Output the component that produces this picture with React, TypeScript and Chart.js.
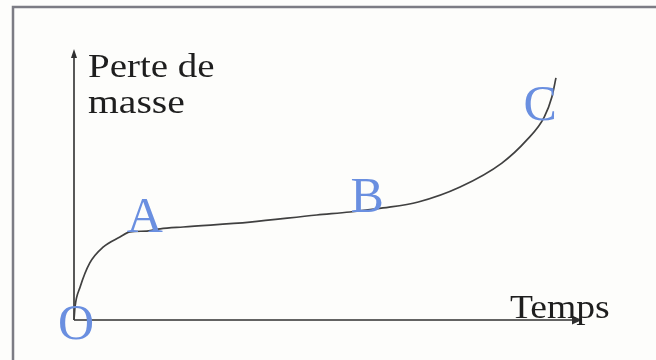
import { useEffect, useRef } from 'react';
import { Chart, registerables } from 'chart.js';

Chart.register(...registerables);

// Curve: mass loss versus time (arbitrary units)
const timeValues = [0, 0.2, 1.2, 3.1, 5.7, 9.0, 11.0, 14.3, 16.9, 21.4, 34.5, 47.6, 54.1, 60.6, 67.5, 75.7, 83.9, 88.8, 92.2, 93.7, 94.5];
const massLossValues = [0, 4.8, 12.1, 21.0, 26.8, 30.5, 32.4, 32.7, 33.5, 34.2, 36.0, 38.6, 39.7, 41.2, 43.4, 48.9, 57.7, 66.2, 74.6, 82.0, 89.0];

// Point labels (blue letters) anchored in data coordinates (baseline centre)
const pointLabels = ['O', 'A', 'B', 'C'];
const pointLabelX = [0.4, 13.9, 57.5, 91.4];
const pointLabelY = [-7, 32.4, 39.7, 73.5];

const yAxisTitle = ['Perte de', 'masse'];
const xAxisTitle = 'Temps';

const SERIF = '"Liberation Serif", "Times New Roman", serif';

const decor = {
  id: 'decor',
  beforeDraw(chart: any) {
    const { ctx, width, height } = chart;
    ctx.save();
    ctx.fillStyle = '#fdfdfb';
    ctx.fillRect(0, 0, width, height);
    ctx.strokeStyle = '#7c7c84';
    ctx.lineWidth = 2.5;
    ctx.beginPath();
    ctx.moveTo(13, height);
    ctx.lineTo(13, 7);
    ctx.lineTo(width, 7);
    ctx.stroke();
    ctx.restore();
  },
  beforeDatasetsDraw(chart: any) {
    const { ctx, chartArea } = chart;
    const xs = chart.scales.x;
    const ys = chart.scales.y;
    const ox = xs.getPixelForValue(0);
    const oy = ys.getPixelForValue(0);
    const xTip = chartArea.right - 2;
    const yTip = chartArea.top + 1;
    ctx.save();
    ctx.strokeStyle = '#303030';
    ctx.fillStyle = '#303030';
    ctx.lineWidth = 1.6;
    ctx.beginPath();
    ctx.moveTo(ox, oy);
    ctx.lineTo(xTip - 4, oy);
    ctx.moveTo(ox, oy);
    ctx.lineTo(ox, yTip + 4);
    ctx.stroke();
    // arrowheads
    ctx.beginPath();
    ctx.moveTo(xTip, oy);
    ctx.lineTo(xTip - 10, oy - 4.5);
    ctx.lineTo(xTip - 10, oy + 4.5);
    ctx.closePath();
    ctx.fill();
    ctx.beginPath();
    ctx.moveTo(ox, yTip);
    ctx.lineTo(ox - 3, yTip + 9);
    ctx.lineTo(ox + 3, yTip + 9);
    ctx.closePath();
    ctx.fill();

    // axis titles
    ctx.fillStyle = '#1e1e1e';
    ctx.font = `33px ${SERIF}`;
    ctx.textAlign = 'left';
    ctx.textBaseline = 'alphabetic';
    const drawStretched = (t: string, x: number, y: number, sx: number) => {
      ctx.save();
      ctx.translate(x, y);
      ctx.scale(sx, 1);
      ctx.fillText(t, 0, 0);
      ctx.restore();
    };
    drawStretched(yAxisTitle[0], ox + 14, chartArea.top + 29, 1.18);
    drawStretched(yAxisTitle[1], ox + 14, chartArea.top + 65, 1.2);
    drawStretched(xAxisTitle, chartArea.right - 74, oy - 2, 1.14);
    ctx.restore();
  },
  afterDatasetsDraw(chart: any) {
    const { ctx } = chart;
    const xs = chart.scales.x;
    const ys = chart.scales.y;
    ctx.save();
    ctx.fillStyle = '#6a8fe0';
    ctx.font = `50px ${SERIF}`;
    ctx.textAlign = 'center';
    ctx.textBaseline = 'alphabetic';
    pointLabels.forEach((t, i) => {
      ctx.fillText(t, xs.getPixelForValue(pointLabelX[i]), ys.getPixelForValue(pointLabelY[i]));
    });
    ctx.restore();
  },
};

export default function App() {
  const ref = useRef<HTMLCanvasElement | null>(null);
  useEffect(() => {
    if (!ref.current) return;
    const chart = new Chart(ref.current, {
      type: 'line',
      data: {
        datasets: [
          {
            data: timeValues.map((x, i) => ({ x, y: massLossValues[i] })),
            borderColor: '#404040',
            borderWidth: 1.7,
            pointRadius: 0,
            fill: false,
            cubicInterpolationMode: 'monotone',
            clip: false as any,
          },
        ],
      },
      options: {
        responsive: false,
        animation: false,
        devicePixelRatio: 1,
        layout: { padding: { left: 74, right: 72, top: 48, bottom: 40 } },
        plugins: { legend: { display: false }, tooltip: { enabled: false } },
        scales: {
          x: { type: 'linear', min: 0, max: 100, display: false },
          y: { type: 'linear', min: 0, max: 100, display: false },
        },
      },
      plugins: [decor],
    });
    return () => chart.destroy();
  }, []);
  return (
    <div style={{ position: 'absolute', left: 0, top: 0, width: 656, height: 360 }}>
      <canvas ref={ref} width={656} height={360} style={{ display: 'block' }} />
    </div>
  );
}
